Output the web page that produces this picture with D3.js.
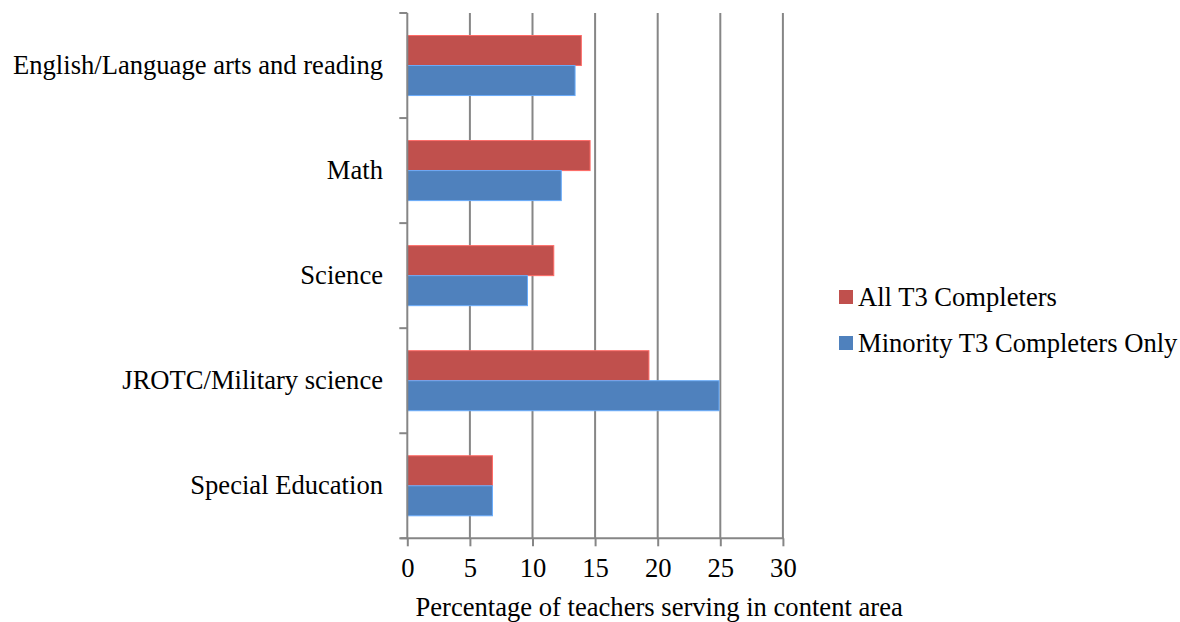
<!DOCTYPE html>
<html>
<head>
<meta charset="utf-8">
<script src="https://cdn.jsdelivr.net/npm/d3@7"></script>
<style>
  body { margin: 0; background: #fff; }
  svg text { font-family: "Liberation Serif", "Times New Roman", serif; fill: #000; }
</style>
</head>
<body>
<svg id="chart" width="1180" height="622"></svg>
<script>
// Content areas, listed top to bottom
const categories = [
  "English/Language arts and reading",
  "Math",
  "Science",
  "JROTC/Military science",
  "Special Education"
];
const seriesNames = ["All T3 Completers", "Minority T3 Completers Only"];
const seriesColors = ["#C0504D", "#4F81BD"];
const allCompleters = [13.9, 14.6, 11.7, 19.3, 6.8];
const minorityCompleters = [13.4, 12.3, 9.6, 24.9, 6.8];
const xTicks = [0, 5, 10, 15, 20, 25, 30];
const xTitle = "Percentage of teachers serving in content area";

const seriesValues = [allCompleters, minorityCompleters];
const fontSize = 26.6;

const svg = d3.select("#chart");
const plot = { left: 407.3, right: 782.9, top: 13, bottom: 538.3 };

const x = d3.scaleLinear().domain([0, 30]).range([plot.left, plot.right]);
const y = d3.scaleBand().domain(categories).range([plot.top, plot.bottom])
  .paddingInner(0).paddingOuter(0);
// gap width 75% of the pair of bars
const groupH = y.bandwidth() / 1.75;
const ySub = d3.scaleBand().domain(seriesNames)
  .range([(y.bandwidth() - groupH) / 2, (y.bandwidth() + groupH) / 2]);

// vertical gridlines
svg.append("g")
  .selectAll("line")
  .data(xTicks.filter(d => d > 0))
  .join("line")
  .attr("x1", d => x(d)).attr("x2", d => x(d))
  .attr("y1", plot.top).attr("y2", plot.bottom)
  .attr("stroke", "#868686").attr("stroke-width", 2);

// bars
const groups = svg.append("g")
  .selectAll("g")
  .data(categories)
  .join("g")
  .attr("transform", c => `translate(0,${y(c)})`);

groups.selectAll("rect")
  .data((c, i) => seriesNames.map((s, j) => ({ s, j, v: seriesValues[j][i] })))
  .join("rect")
  .attr("x", x(0))
  .attr("y", d => ySub(d.s))
  .attr("width", d => x(d.v) - x(0))
  .attr("height", ySub.bandwidth())
  .attr("fill", d => seriesColors[d.j])
  .attr("stroke", d => d3.color(seriesColors[d.j]).brighter(0.8))
  .attr("stroke-width", 1);

// y axis (category boundaries)
const yAxisG = svg.append("g");
yAxisG.append("line")
  .attr("x1", plot.left).attr("x2", plot.left)
  .attr("y1", plot.top).attr("y2", plot.bottom)
  .attr("stroke", "#868686").attr("stroke-width", 2);
const bounds = categories.map(c => y(c)).concat([plot.bottom]);
yAxisG.selectAll("line.tick")
  .data(bounds)
  .join("line")
  .attr("class", "tick")
  .attr("x1", plot.left - 8).attr("x2", plot.left)
  .attr("y1", d => d).attr("y2", d => d)
  .attr("stroke", "#868686").attr("stroke-width", 2);
yAxisG.selectAll("text")
  .data(categories)
  .join("text")
  .attr("x", 383)
  .attr("y", c => y(c) + y.bandwidth() / 2)
  .attr("dy", "0.32em")
  .attr("text-anchor", "end")
  .attr("font-size", fontSize)
  .text(c => c);

// x axis
const xAxis = d3.axisBottom(x).tickValues(xTicks).tickSize(8).tickPadding(12);
const xAxisG = svg.append("g")
  .attr("transform", `translate(0,${plot.bottom})`)
  .call(xAxis);
xAxisG.select(".domain")
  .attr("d", `M${plot.left - 7},0H${plot.right + 1}`)
  .attr("stroke", "#868686").attr("stroke-width", 2);
xAxisG.selectAll(".tick line").attr("stroke", "#868686").attr("stroke-width", 2);
xAxisG.selectAll(".tick text")
  .attr("font-size", fontSize)
  .attr("font-family", "Liberation Serif, Times New Roman, serif")
  .attr("fill", "#000");

svg.append("text")
  .attr("x", (plot.left + plot.right) / 2 + 64)
  .attr("y", 607)
  .attr("dy", "0.32em")
  .attr("text-anchor", "middle")
  .attr("font-size", fontSize)
  .text(xTitle);

// legend
const legend = svg.append("g").attr("transform", "translate(839,297)");
const item = legend.selectAll("g")
  .data(seriesNames)
  .join("g")
  .attr("transform", (d, i) => `translate(0,${i * 46})`);
item.append("rect")
  .attr("x", 0).attr("y", -7)
  .attr("width", 14).attr("height", 14)
  .attr("fill", (d, i) => seriesColors[i]);
item.append("text")
  .attr("x", 19).attr("y", 0)
  .attr("dy", "0.32em")
  .attr("font-size", fontSize)
  .text(d => d);
</script>
</body>
</html>
